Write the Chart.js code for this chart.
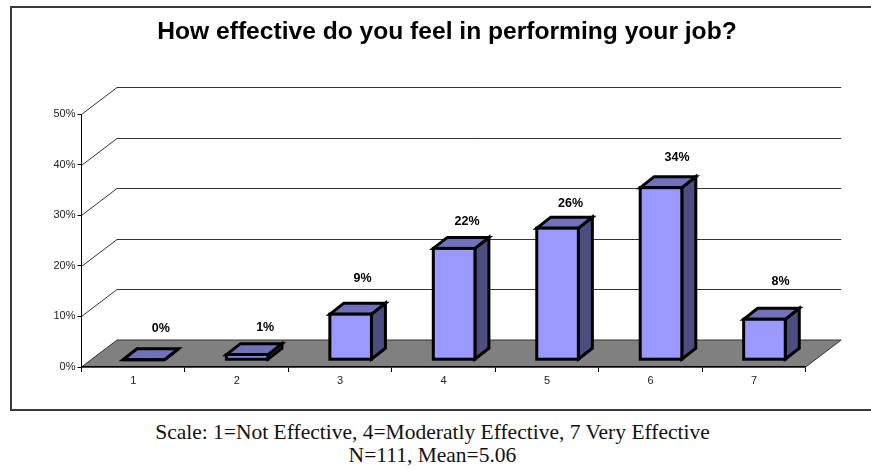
<!DOCTYPE html>
<html>
<head>
<meta charset="utf-8">
<title>Job effectiveness</title>
<style>
  html, body { margin: 0; background: #fff; overflow: hidden; }
  #frame { position: absolute; left: 10px; top: 6px; width: 900px; height: 401px; border: 2px solid #3a3a3a; }
  #wrap { position: absolute; left: 23px; top: 0; width: 848px; height: 409px; }
  #caption { position: absolute; left: 0; top: 421px; width: 865px; text-align: center;
    font: 21.5px/23px "Liberation Serif", serif; color: #111; white-space: nowrap; }
</style>
<script src="https://cdn.jsdelivr.net/npm/chart.js@4"></script>
</head>
<body>
<div id="frame"></div>
<div id="wrap"><canvas id="myChart" width="848" height="409"></canvas></div>
<div id="caption">Scale: 1=Not Effective, 4=Moderatly Effective, 7 Very Effective<br>N=111, Mean=5.06</div>
<script>
'use strict';

let chartTitle = 'How effective do you feel in performing your job?';
let categories = ['1', '2', '3', '4', '5', '6', '7'];
let percentValues = [0, 1, 9, 22, 26, 34, 8];
let yTicks = [0, 10, 20, 30, 40, 50];

// where each value label sits, relative to the top of its bar
let labelShiftX = [17, 18, 12, 13, 13, 16, 16];
let labelLift = [31, 27, 36, 27, 25, 30, 38];

// fake 3d: depth of the whole floor and of one bar
let floorDepth = { x: 35.5, y: 27 };
let barShift = { x: 10.5, y: 7.3 };
let barDepth = { x: 14, y: 11 };

function polygon(ctx, points, fill) {
    ctx.beginPath();
    ctx.moveTo(points[0][0], points[0][1]);
    for (let i = 1; i < points.length; i++) {
        ctx.lineTo(points[i][0], points[i][1]);
    }
    ctx.closePath();
    if (fill) {
        ctx.fillStyle = fill;
        ctx.fill();
    }
    ctx.stroke();
}

let fake3d = {
    id: 'fake3d',
    // floor and the gridlines on the two walls
    beforeDraw(chart) {
        let ctx = chart.ctx;
        let area = chart.chartArea;
        let yScale = chart.scales.y;
        ctx.save();
        ctx.lineWidth = 1;
        ctx.strokeStyle = '#333';
        ctx.lineJoin = 'miter';
        for (let i = 1; i < yTicks.length; i++) {
            let y = Math.round(yScale.getPixelForValue(yTicks[i])) + 0.5;
            ctx.beginPath();
            ctx.moveTo(area.left, y);
            ctx.lineTo(area.left + floorDepth.x, y - floorDepth.y);
            ctx.lineTo(area.right + floorDepth.x, y - floorDepth.y);
            ctx.stroke();
        }
        let y0 = yScale.getPixelForValue(0);
        polygon(ctx, [
            [area.left, y0],
            [area.right, y0],
            [area.right + floorDepth.x, y0 - floorDepth.y],
            [area.left + floorDepth.x, y0 - floorDepth.y]
        ], '#808080');
        ctx.restore();
    },
    // move the bars back onto the floor, draw side and top first
    beforeDatasetsDraw(chart) {
        let ctx = chart.ctx;
        ctx.save();
        ctx.translate(barShift.x, -barShift.y);
        ctx.lineWidth = 3;
        ctx.strokeStyle = '#000';
        ctx.lineJoin = 'miter';
        chart.getDatasetMeta(0).data.forEach(function (bar) {
            let left = bar.x - bar.width / 2;
            let right = bar.x + bar.width / 2;
            polygon(ctx, [
                [right, bar.y],
                [right + barDepth.x, bar.y - barDepth.y],
                [right + barDepth.x, bar.base - barDepth.y],
                [right, bar.base]
            ], '#4d4d80');
            polygon(ctx, [
                [left, bar.y],
                [right, bar.y],
                [right + barDepth.x, bar.y - barDepth.y],
                [left + barDepth.x, bar.y - barDepth.y]
            ], '#7070bb');
        });
    },
    afterDatasetsDraw(chart) {
        let ctx = chart.ctx;
        // outline of the front faces, still in the shifted position
        chart.getDatasetMeta(0).data.forEach(function (bar) {
            ctx.strokeRect(bar.x - bar.width / 2, bar.y, bar.width, bar.base - bar.y);
        });
        ctx.restore();
        ctx.save();
        ctx.font = 'bold 12.5px "Liberation Sans"';
        ctx.fillStyle = '#000';
        ctx.textAlign = 'center';
        ctx.textBaseline = 'middle';
        chart.getDatasetMeta(0).data.forEach(function (bar, i) {
            let x = bar.x + barShift.x + labelShiftX[i];
            let y = bar.y - barShift.y - labelLift[i];
            ctx.fillText(percentValues[i] + '%', x, y);
        });
        ctx.restore();
    }
};

let ctx = document.getElementById('myChart').getContext('2d');
let chart = new Chart(ctx, {
    type: 'bar',
    data: {
        labels: categories,
        datasets: [{
            data: percentValues,
            backgroundColor: '#9999ff',
            borderWidth: 0,
            barPercentage: 0.402,
            categoryPercentage: 1,
            clip: false
        }]
    },
    options: {
        responsive: false,
        animation: false,
        plugins: {
            legend: { display: false },
            tooltip: { enabled: false },
            title: {
                display: true,
                text: chartTitle,
                color: '#000',
                font: { family: '"Liberation Sans"', size: 24.6, weight: 'bold', lineHeight: 1.2 },
                padding: { top: 17, bottom: 67.5 }
            }
        },
        scales: {
            x: {
                afterFit(scale) { scale.height = 42; },
                grid: { drawOnChartArea: false, tickLength: 5, tickColor: '#000', tickWidth: 1 },
                border: { color: '#000', width: 1.5 },
                ticks: { color: '#222', padding: 2, maxRotation: 0, font: { family: '"Liberation Sans"', size: 11 } }
            },
            y: {
                min: 0,
                max: 50,
                afterFit(scale) { scale.width = 58.5; },
                afterBuildTicks(scale) { scale.ticks = yTicks.map(v => ({ value: v })); },
                grid: { drawOnChartArea: false, tickLength: 4, tickColor: '#000', tickWidth: 1 },
                border: { color: '#000', width: 1 },
                ticks: {
                    color: '#222',
                    padding: 2,
                    font: { family: '"Liberation Sans"', size: 11 },
                    callback: function (value) { return value + '%'; }
                }
            },
            // empty axis, only keeps the room right of the plot so the title stays centred on the canvas
            rightGap: {
                position: 'right',
                afterFit(scale) { scale.width = 65.3; },
                grid: { display: false },
                border: { display: false },
                ticks: { display: false }
            }
        }
    },
    plugins: [fake3d]
});
</script>
</body>
</html>
